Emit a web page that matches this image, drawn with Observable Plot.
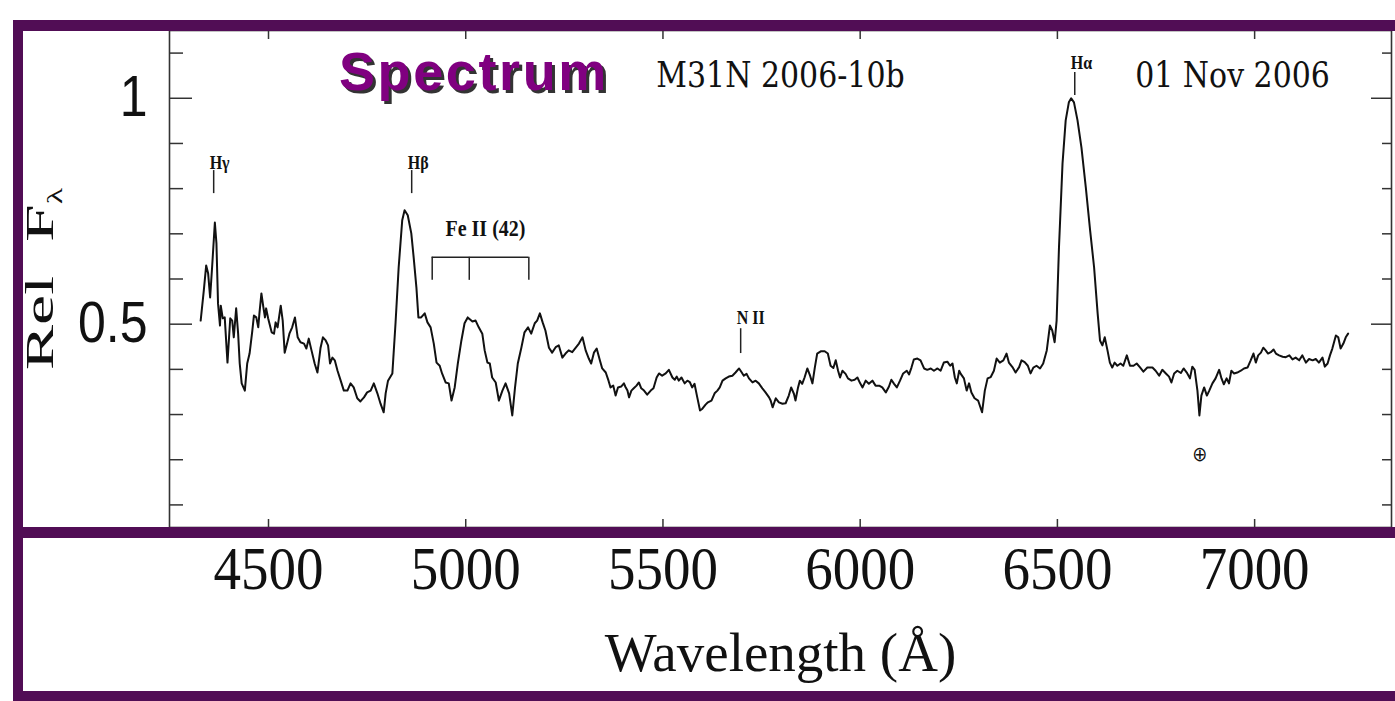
<!DOCTYPE html>
<html><head><meta charset="utf-8">
<script src="https://cdn.jsdelivr.net/npm/d3@7"></script>
<script src="https://cdn.jsdelivr.net/npm/@observablehq/plot@0.6"></script>
<style>
html,body{margin:0;padding:0;background:#fff;}
#wrap{position:relative;width:1395px;height:701px;overflow:hidden;background:#fff;}
#wrap svg{position:absolute;left:0;top:0;}
.bar{position:absolute;background:#510d55;}
#title{position:absolute;left:339px;top:44px;font-family:"Liberation Sans",Arial,sans-serif;font-weight:bold;font-size:54px;line-height:1;color:#800080;text-shadow:3px 3px 0 #333;letter-spacing:2.6px;white-space:nowrap;}
</style></head><body>
<div id="wrap"></div>
<script>
// Spectrum of M31N 2006-10b
const wavelength = [
4328,4336,4342,4347,4352,4357,4364,4368,4372,4377,4379,4384,4389,4396,4403,4408,4412,4418,4423,4427,
4432,4440,4446,4452,4459,4463,4469,4474,4477,4482,4487,4491,4494,4499,4508,4514,4518,4523,4531,4536,
4541,4547,4553,4560,4567,4574,4581,4590,4596,4602,4609,4617,4624,4632,4638,4645,4651,4656,4662,4668,
4675,4683,4691,4700,4708,4716,4725,4733,4742,4750,4759,4767,4776,4784,4792,4797,4803,4814,4822,4830,
4839,4845,4853,4862,4868,4875,4880,4887,4896,4903,4911,4919,4926,4934,4940,4949,4957,4964,4972,4980,
4989,4997,5005,5017,5025,5033,5042,5048,5055,5061,5067,5076,5084,5093,5101,5110,5118,5125,5132,5141,
5149,5158,5166,5175,5181,5188,5195,5202,5211,5219,5228,5236,5245,5253,5261,5270,5279,5287,5296,5304,
5312,5318,5325,5332,5340,5346,5355,5362,5367,5374,5380,5386,5394,5401,5405,5410,5414,5420,5426,5433,
5439,5445,5452,5460,5469,5476,5484,5490,5498,5507,5515,5524,5530,5535,5540,5547,5555,5562,5568,5574,
5580,5587,5594,5600,5608,5614,5623,5631,5638,5644,5651,5659,5667,5676,5684,5693,5699,5705,5712,5718,
5727,5735,5743,5752,5760,5769,5773,5778,5786,5794,5803,5811,5819,5825,5832,5836,5842,5847,5853,5859,
5866,5873,5879,5885,5891,5900,5910,5918,5925,5932,5938,5944,5949,5955,5963,5969,5978,5986,5993,6000,
6006,6014,6022,6031,6039,6048,6056,6065,6073,6079,6086,6093,6101,6109,6118,6124,6130,6136,6145,6153,
6162,6170,6179,6187,6196,6204,6212,6221,6228,6234,6240,6245,6251,6255,6263,6270,6276,6282,6290,6299,
6309,6316,6323,6331,6339,6346,6354,6363,6371,6377,6386,6394,6403,6409,6417,6425,6432,6439,6447,6456,
6464,6473,6481,6487,6493,6498,6504,6513,6521,6529,6535,6542,6551,6561,6572,6583,6593,6602,6608,6614,
6620,6627,6633,6639,6645,6652,6660,6667,6676,6684,6693,6701,6709,6718,6728,6741,6749,6758,6766,6775,
6783,6789,6796,6804,6813,6820,6828,6836,6842,6848,6855,6860,6865,6872,6879,6885,6893,6901,6910,6916,
6922,6929,6935,6941,6948,6956,6965,6973,6982,6990,6997,7003,7009,7016,7022,7028,7034,7041,7048,7054,
7062,7071,7079,7088,7096,7104,7113,7121,7130,7138,7147,7155,7163,7172,7178,7185,7191,7197,7206,7212,
7218,7225,7231,7237];
const relFlux = [
0.508,0.575,0.630,0.612,0.559,0.626,0.725,0.679,0.546,0.497,0.541,0.513,0.515,0.415,0.513,0.508,0.471,0.535,0.479,0.413,
0.369,0.353,0.413,0.435,0.486,0.519,0.515,0.493,0.524,0.568,0.537,0.515,0.535,0.513,0.482,0.479,0.504,0.493,0.541,0.508,
0.437,0.457,0.479,0.493,0.515,0.471,0.460,0.457,0.446,0.468,0.442,0.413,0.393,0.448,0.471,0.464,0.453,0.413,0.426,0.420,
0.397,0.375,0.353,0.353,0.369,0.360,0.336,0.329,0.338,0.349,0.353,0.369,0.347,0.324,0.305,0.347,0.375,0.391,0.502,0.626,
0.730,0.752,0.741,0.701,0.648,0.581,0.515,0.515,0.524,0.504,0.493,0.457,0.415,0.408,0.391,0.371,0.369,0.331,0.360,0.413,
0.464,0.502,0.515,0.506,0.508,0.493,0.479,0.442,0.415,0.413,0.382,0.371,0.331,0.353,0.369,0.347,0.298,0.360,0.413,0.448,
0.482,0.493,0.479,0.502,0.508,0.524,0.504,0.486,0.448,0.437,0.449,0.453,0.426,0.435,0.442,0.438,0.448,0.457,0.471,0.442,
0.424,0.413,0.437,0.446,0.420,0.402,0.393,0.375,0.360,0.364,0.342,0.360,0.362,0.369,0.361,0.353,0.338,0.353,0.358,0.364,
0.371,0.358,0.353,0.344,0.353,0.358,0.382,0.391,0.386,0.391,0.399,0.382,0.377,0.384,0.375,0.382,0.369,0.375,0.372,0.360,
0.368,0.338,0.309,0.313,0.322,0.327,0.331,0.347,0.353,0.360,0.375,0.380,0.384,0.386,0.393,0.402,0.394,0.386,0.390,0.380,
0.371,0.375,0.369,0.358,0.349,0.338,0.331,0.316,0.336,0.327,0.324,0.325,0.342,0.360,0.346,0.331,0.358,0.375,0.368,0.382,
0.402,0.386,0.369,0.404,0.435,0.440,0.440,0.435,0.408,0.403,0.420,0.397,0.382,0.397,0.390,0.380,0.375,0.377,0.382,0.369,
0.360,0.375,0.368,0.375,0.364,0.364,0.360,0.349,0.362,0.377,0.368,0.360,0.375,0.391,0.397,0.389,0.404,0.422,0.424,0.420,
0.402,0.399,0.402,0.397,0.402,0.397,0.415,0.417,0.408,0.413,0.382,0.369,0.397,0.390,0.380,0.353,0.369,0.349,0.336,0.331,
0.305,0.353,0.380,0.383,0.397,0.424,0.415,0.420,0.435,0.415,0.405,0.393,0.405,0.420,0.416,0.408,0.391,0.404,0.408,0.402,
0.413,0.442,0.497,0.486,0.460,0.508,0.670,0.856,0.951,0.991,1.000,0.991,0.951,0.891,0.803,0.707,0.626,0.524,0.464,0.453,
0.471,0.442,0.415,0.404,0.415,0.408,0.413,0.408,0.431,0.408,0.408,0.413,0.405,0.395,0.404,0.404,0.397,0.386,0.399,0.391,
0.384,0.371,0.391,0.397,0.392,0.402,0.393,0.380,0.406,0.399,0.353,0.298,0.342,0.360,0.342,0.353,0.369,0.380,0.399,0.380,
0.367,0.380,0.369,0.397,0.391,0.393,0.397,0.402,0.404,0.420,0.435,0.415,0.431,0.437,0.448,0.442,0.435,0.438,0.444,0.435,
0.431,0.428,0.427,0.431,0.422,0.426,0.420,0.431,0.415,0.423,0.420,0.423,0.415,0.426,0.406,0.413,0.431,0.446,0.475,0.471,
0.446,0.457,0.471,0.479];

// Axis ticks
const xTicks = [4500, 5000, 5500, 6000, 6500, 7000];
const yMajor = [0.5, 1];
const yMinor = [0.1, 0.2, 0.3, 0.4, 0.6, 0.7, 0.8, 0.9, 1.1];

// Line identifications
const lineNames = ["Hγ", "Hβ", "N II", "Hα"];
const lineWl = [4361, 4863, 5697, 6544];
const lineTickLow = [0.789, 0.789, 0.435, 1.006];
const lineTickHigh = [0.840, 0.840, 0.490, 1.057];
const lineLabelFlux = [0.857, 0.857, 0.514, 1.077];

// Fe II (42) multiplet bracket
const feLabel = "Fe II (42)";
const feWl = [4915, 5009, 5160];
const feLabelPos = [5050, 0.712];
const feBracketTop = 0.648;
const feBracketBottom = 0.597;

// Telluric marker
const telluric = {label: "⊕", wl: 6861, flux: 0.212};

// Header texts
const headerTexts = ["M31N 2006-10b", "01 Nov 2006"];
const headerWl = [5798, 6944];
const headerFlux = 1.049;

const spectrum = wavelength.map((w, i) => ({w, f: relFlux[i]}));
const lines = lineNames.map((n, i) => ({n, w: lineWl[i], lo: lineTickLow[i], hi: lineTickHigh[i], ly: lineLabelFlux[i]}));
const headers = headerTexts.map((t, i) => ({t, w: headerWl[i], f: headerFlux}));
const blank = () => "";
const axisStroke = "#333";

const chart = Plot.plot({
  width: 1395, height: 701,
  marginTop: 30, marginBottom: 174, marginLeft: 169, marginRight: 4,
  x: {domain: [4249, 7347]},
  y: {domain: [0.05, 1.15]},
  style: {background: "transparent", color: "#111", overflow: "visible"},
  marks: [
    Plot.frame({stroke: axisStroke, strokeWidth: 1.6}),
    // bottom tick labels + x label
    Plot.axisX({anchor: "bottom", ticks: xTicks, tickSize: 0, tickPadding: 17, tickFormat: d => String(d),
      fontSize: 55, fontFamily: "Liberation Serif", label: "Wavelength (Å)", labelAnchor: "center", labelOffset: 143, labelArrow: "none"}),
    // inward ticks
    Plot.axisX({anchor: "bottom", ticks: xTicks, tickSize: 8, dy: -8, tickFormat: blank, label: null, stroke: axisStroke, strokeWidth: 1.5}),
    Plot.axisX({anchor: "top", ticks: xTicks, tickSize: 8, dy: 8, tickFormat: blank, label: null, stroke: axisStroke, strokeWidth: 1.5}),
    Plot.axisY({anchor: "left", ticks: yMinor, tickSize: 14, dx: 14, tickFormat: blank, label: null, stroke: axisStroke, strokeWidth: 1.5}),
    Plot.axisY({anchor: "left", ticks: yMajor, tickSize: 23, dx: 23, tickFormat: blank, label: null, stroke: axisStroke, strokeWidth: 1.5}),
    Plot.axisY({anchor: "right", ticks: yMinor, tickSize: 10, dx: -10, tickFormat: blank, label: null, stroke: axisStroke, strokeWidth: 1.5}),
    Plot.axisY({anchor: "right", ticks: yMajor, tickSize: 21, dx: -21, tickFormat: blank, label: null, stroke: axisStroke, strokeWidth: 1.5}),
    // y tick labels
    Plot.axisY({anchor: "left", ticks: yMajor, tickSize: 0, tickPadding: 22, tickFormat: d => String(d),
      fontSize: 50, fontFamily: "Liberation Sans", label: null}),
    // y label
    Plot.axisY({anchor: "left", ticks: [], tickSize: 0, label: "Rel  F", labelAnchor: "center", labelOffset: 145,
      fontSize: 40, fontFamily: "Liberation Serif", labelArrow: "none"}),
    // spectrum
    Plot.line(spectrum, {x: "w", y: "f", stroke: "#111", strokeWidth: 2, strokeLinejoin: "round"}),
    // line identifications
    Plot.ruleX(lines, {x: "w", y1: "lo", y2: "hi", stroke: "#222", strokeWidth: 1.5}),
    Plot.text(lines, {x: "w", y: "ly", text: "n", textAnchor: "start", dx: -4, fontFamily: "Liberation Serif", fontWeight: "bold", fontSize: 16, fill: "#111"}),
    Plot.ruleY([feBracketTop], {x1: feWl[0], x2: feWl[2], stroke: "#222", strokeWidth: 1.5}),
    Plot.ruleX(feWl, {x: d => d, y1: feBracketBottom, y2: feBracketTop, stroke: "#222", strokeWidth: 1.5}),
    Plot.text([feLabel], {x: feLabelPos[0], y: feLabelPos[1], text: d => d, fontFamily: "Liberation Serif", fontWeight: "bold", fontSize: 20, fill: "#111"}),
    Plot.text([telluric], {x: "wl", y: "flux", text: "label", fontFamily: "DejaVu Sans", fontSize: 18, fill: "#111"}),
    Plot.text(headers, {x: "w", y: "f", text: "t", fontFamily: "DejaVu Serif", fontSize: 30, fill: "#111"})
  ]
});

const svg = d3.select(chart);
// stretch glyphs like the original figure
function stretch(sel, sx, sy) {
  sel.each(function() {
    const t = this.getAttribute("transform") || "";
    this.setAttribute("transform", t + ` scale(${sx},${sy})`);
  });
}
stretch(svg.selectAll('g[aria-label="x-axis tick label"] text'), 1, 1.13);
stretch(svg.selectAll('g[aria-label="y-axis tick label"] text'), 1, 1.13);
stretch(svg.selectAll('g[aria-label="text"] text'), 1, 1.15);
// y label: elongated along the text, with subscript lambda
svg.selectAll('g[aria-label="y-axis label"] text').each(function() {
  const el = d3.select(this);
  el.text(null).style("white-space", "pre");
  el.append("tspan").text("Rel  F");
  el.append("tspan").attr("font-size", 20).attr("dy", 9).text("λ");
});
stretch(svg.selectAll('g[aria-label="y-axis label"] text'), 1.7, 1);

const wrap = document.getElementById("wrap");
wrap.appendChild(chart);
// purple frame decoration
[[13, 20, 1382, 11], [13, 20, 10, 681], [13, 527, 1382, 11], [13, 691, 1382, 10]].forEach(([l, t, w, h]) => {
  const d = document.createElement("div");
  d.className = "bar";
  Object.assign(d.style, {left: l + "px", top: t + "px", width: w + "px", height: h + "px"});
  wrap.appendChild(d);
});
const title = document.createElement("div");
title.id = "title";
title.textContent = "Spectrum";
wrap.appendChild(title);
</script>
</body></html>
